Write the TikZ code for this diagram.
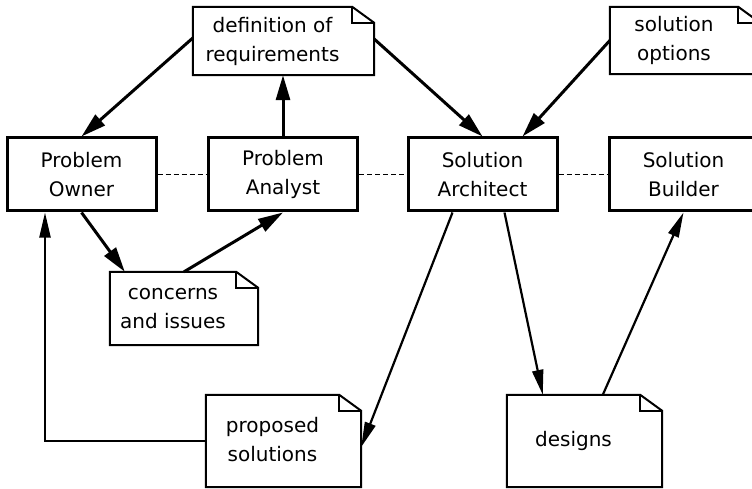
\documentclass[tikz,border=0pt]{standalone}
\usepackage{fontspec}
\setmainfont{DejaVu Sans}
\usetikzlibrary{arrows.meta}

\newcommand\notelines[1]{\begin{tabular}{@{}c@{\hspace{22pt}}}#1\end{tabular}}

\tikzset{
  lbl/.style={font=\fontsize{20}{29}\selectfont},
  rolebox/.style={lbl, draw, line width=3pt, minimum width=149pt, minimum height=73pt,
    inner sep=0pt, align=center},
  notebox/.style={lbl, inner sep=0pt, align=center},
  noteline/.style={line width=2pt, line join=miter},
  thickarr/.style={line width=3pt, -{Triangle[length=25pt,width=14pt]}},
  thinarr/.style={line width=2.2pt, -{Triangle[length=25pt,width=11pt]}},
  link/.style={line width=1.6pt, dash pattern=on 5pt off 3pt},
}

\begin{document}
\begin{tikzpicture}[x=1pt, y=-1pt]
  \fill[white] (0,0) rectangle (752,489);
  \useasboundingbox (0,0) rectangle (752,489);
  \clip (0,0) rectangle (752,489);

  % roles
  \node[rolebox] (po) at (81.5,174.5) {Problem\\Owner};
  \node[rolebox] (pa) at (283,174.5) {Problem\\Analyst};
  \node[rolebox] (sa) at (482.5,174.5) {Solution\\Architect};
  \node[rolebox] (sb) at (683.5,174.5) {Solution\\Builder};

  % documents
  \node[notebox, minimum width=181pt, minimum height=68pt] (defreq) at (283.5,41)
    {\notelines{definition of\\requirements}};
  \node[notebox, minimum width=150pt, minimum height=67pt] (solopt) at (685,40.5)
    {\notelines{solution\\options}};
  \node[notebox, minimum width=148pt, minimum height=73pt] (concerns) at (184,308.5)
    {\notelines{concerns\\and issues}};
  \node[notebox, minimum width=155pt, minimum height=92pt] (proposed) at (283.5,441)
    {\notelines{proposed\\solutions}};
  \node[notebox, minimum width=155pt, minimum height=92pt] (designs) at (584.5,441)
    {\notelines{designs}};

  % dog-eared outlines of the documents
  \foreach \n in {defreq,solopt,concerns,proposed,designs}{
    \draw[noteline] (\n.south west) -- (\n.north west) -- ([xshift=-22pt]\n.north east)
      -- ([yshift=-16pt]\n.north east) -- (\n.south east) -- cycle;
    \draw[noteline] ([xshift=-22pt]\n.north east) |- ([yshift=-16pt]\n.north east);
  }

  % peer links between roles
  \draw[link] (po.east) -- (pa.west);
  \draw[link] (pa.east) -- (sa.west);
  \draw[link] (sa.east) -- (sb.west);

  % information flow
  \draw[thickarr] ([yshift=3pt]defreq.west) -- (po.north);
  \draw[thickarr] (pa.north) -- (pa.north |- defreq.south);
  \draw[thickarr] ([yshift=2pt]defreq.east) -- (sa.north);
  \draw[thickarr] (solopt.west) -- ([xshift=40pt]sa.north);
  \draw[thickarr] (po.south) -- ([xshift=15pt]concerns.north west);
  \draw[thickarr] (concerns.north) -- (pa.south);
  \draw[thinarr] ([xshift=-30pt]sa.south) -- ([yshift=-6pt]proposed.east);
  \draw[thinarr] ([xshift=22pt]sa.south) -- ([xshift=36pt]designs.north west);
  \draw[thinarr] ([xshift=96pt]designs.north west) -- (sb.south);
  \draw[thinarr] (proposed.west) -| ([xshift=-36.5pt]po.south);
\end{tikzpicture}
\end{document}
